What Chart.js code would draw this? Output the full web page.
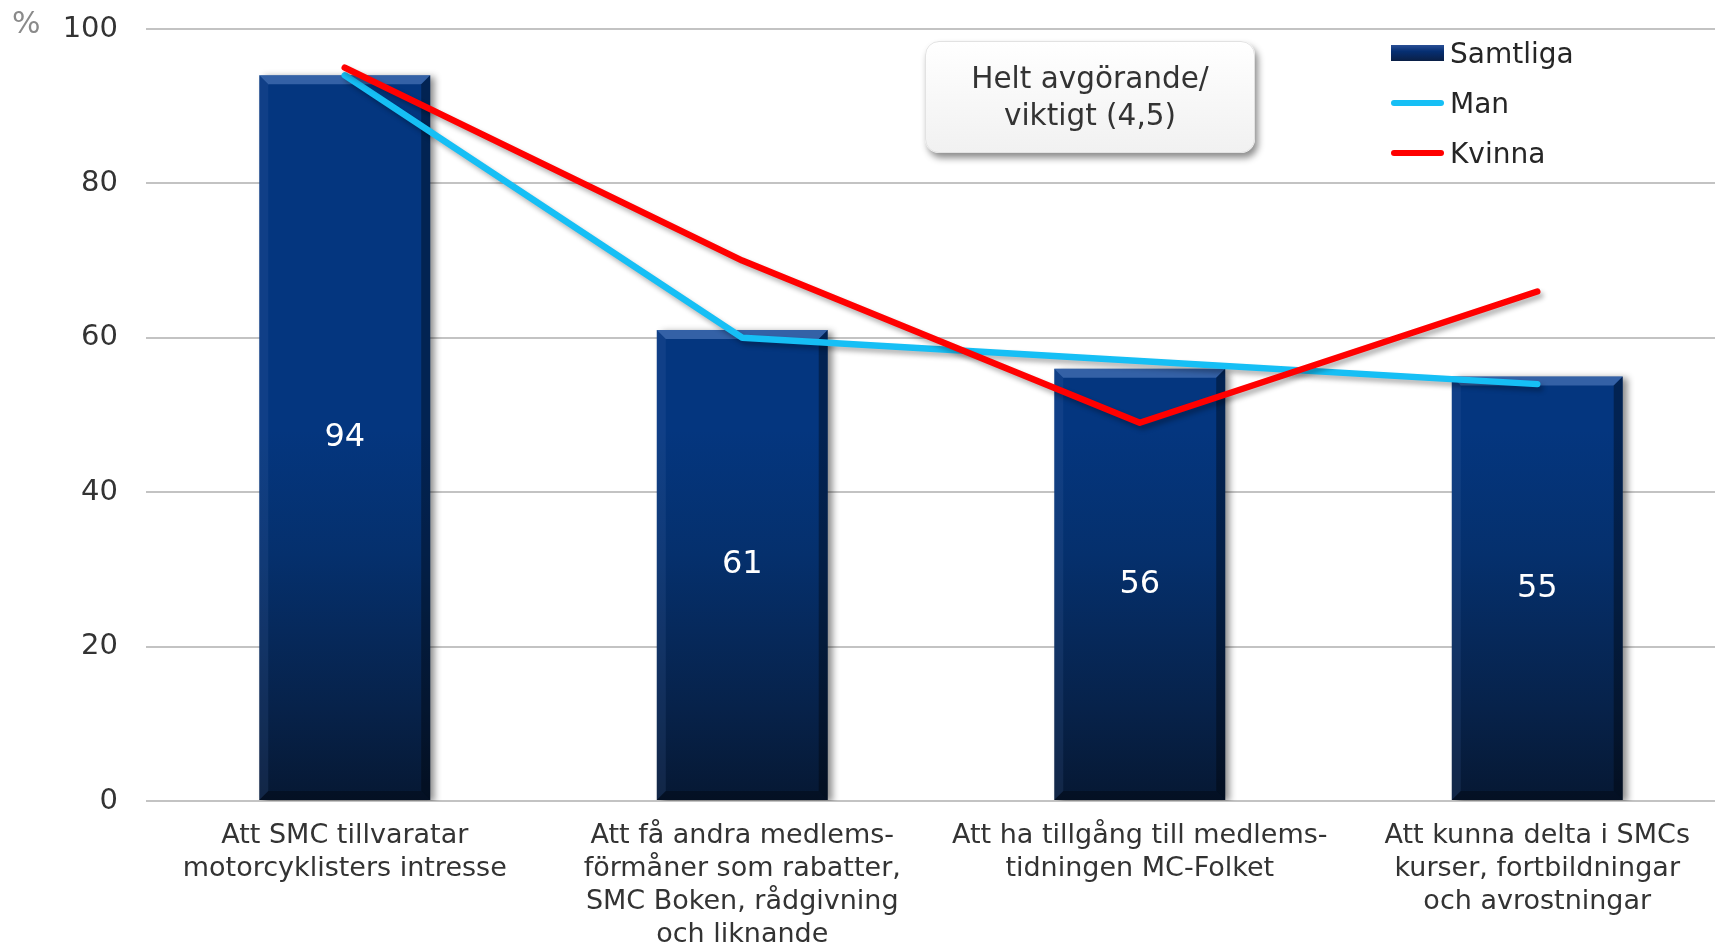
<!DOCTYPE html>
<html>
<head>
<meta charset="utf-8">
<script src="https://cdn.jsdelivr.net/npm/chart.js@4.4.1/dist/chart.umd.min.js"></script>
<style>
  html, body { margin: 0; padding: 0; background: #fff; overflow: hidden; }
  #wrap { position: relative; width: 1715px; height: 943px; overflow: hidden; font-family: "DejaVu Sans", Verdana, sans-serif; }
  #chart { position: absolute; left: 0; top: 0; }
  .pct { position: absolute; left: 12px; top: 5px; font-size: 30px; color: #8a8a8a; }
  .note {
    position: absolute; left: 925px; top: 41px; width: 330px; height: 112px;
    border-radius: 14px; background: linear-gradient(#ffffff, #f1f1f1);
    box-shadow: 3px 5px 7px rgba(0,0,0,0.45); border: 1px solid #e2e2e2; box-sizing: border-box;
    display: flex; align-items: center; justify-content: center; text-align: center;
    font-size: 29.5px; line-height: 37px; color: #333;
  }
  .leg { position: absolute; left: 1391px; font-size: 28px; color: #262626; display: flex; align-items: center; height: 34px; }
  .leg .sw { width: 53px; margin-right: 6px; }
  .leg .box { height: 16px; background: linear-gradient(#2a4f96, #062f72 40%, #0a1f45); }
  .leg .ln { height: 6px; border-radius: 3px; }
</style>
</head>
<body>
<div id="wrap">
  <canvas id="chart" width="1736" height="943"></canvas>
  <div class="pct">%</div>
  <div class="note">Helt avgörande/<br>viktigt (4,5)</div>
  <div id="legend"></div>
</div>
<script>
// --- data ---
const categories = [
    ['Att SMC tillvaratar', 'motorcyklisters intresse'],
    ['Att få andra medlems-', 'förmåner som rabatter,', 'SMC Boken, rådgivning', 'och liknande'],
    ['Att ha tillgång till medlems-', 'tidningen MC-Folket'],
    ['Att kunna delta i SMCs', 'kurser, fortbildningar', 'och avrostningar']
];
const samtliga = [94, 61, 56, 55];
const man = [94, 60, 57, 54];
const kvinna = [95, 70, 49, 66];
const yTicks = [0, 20, 40, 60, 80, 100];

const seriesNames = ['Samtliga', 'Man', 'Kvinna'];
const manColor = '#16bff5';
const kvinnaColor = '#ff0000';

// legend (html)
const legendRows = [
    { name: seriesNames[0], cls: 'box', color: null, top: 36 },
    { name: seriesNames[1], cls: 'ln', color: manColor, top: 86 },
    { name: seriesNames[2], cls: 'ln', color: kvinnaColor, top: 136 }
];
document.getElementById('legend').innerHTML = legendRows.map(r => `
    <div class="leg" style="top:${r.top}px">
        <div class="sw ${r.cls}" ${r.color ? `style="background:${r.color}"` : ''}></div>${r.name}
    </div>`).join('');

// bar gradient along the value axis
function barFill(c) {
    const area = c.chart.chartArea;
    if (!area) return '#06357f';
    const g = c.chart.ctx.createLinearGradient(0, area.bottom, 0, area.top);
    g.addColorStop(0, '#061833');
    g.addColorStop(0.12, '#07224a');
    g.addColorStop(0.32, '#05306d');
    g.addColorStop(0.48, '#04367f');
    g.addColorStop(1, '#04367f');
    return g;
}

// shadow + bevel + labels for the bars
const barDecor = {
    id: 'barDecor',
    beforeDatasetDraw(chart, args) {
        const ctx = chart.ctx;
        ctx.save();
        if (args.index === 0) {
            ctx.shadowColor = 'rgba(0,0,0,0.45)';
            ctx.shadowOffsetX = 5;
            ctx.shadowOffsetY = 2;
            ctx.shadowBlur = 7;
        } else {
            ctx.shadowColor = 'rgba(0,0,0,0.3)';
            ctx.shadowOffsetX = 3;
            ctx.shadowOffsetY = 4;
            ctx.shadowBlur = 5;
        }
    },
    afterDatasetDraw(chart, args) {
        const ctx = chart.ctx;
        ctx.restore();
        if (args.index !== 0) return;
        const meta = chart.getDatasetMeta(0);
        meta.data.forEach((bar, i) => {
            const l = bar.x - bar.width / 2, r = bar.x + bar.width / 2;
            const t = bar.y, b = bar.base, e = 9;
            ctx.save();
            // top bevel
            ctx.fillStyle = 'rgba(110,150,215,0.45)';
            ctx.beginPath();
            ctx.moveTo(l, t); ctx.lineTo(r, t); ctx.lineTo(r - e, t + e); ctx.lineTo(l + e, t + e); ctx.closePath();
            ctx.fill();
            // right edge dark
            ctx.fillStyle = 'rgba(0,0,0,0.35)';
            ctx.beginPath();
            ctx.moveTo(r, t); ctx.lineTo(r, b); ctx.lineTo(r - e, b - e); ctx.lineTo(r - e, t + e); ctx.closePath();
            ctx.fill();
            // left edge light
            ctx.fillStyle = 'rgba(90,120,180,0.15)';
            ctx.beginPath();
            ctx.moveTo(l, t); ctx.lineTo(l, b); ctx.lineTo(l + e, b - e); ctx.lineTo(l + e, t + e); ctx.closePath();
            ctx.fill();
            // bottom edge
            ctx.fillStyle = 'rgba(0,0,0,0.3)';
            ctx.beginPath();
            ctx.moveTo(l, b); ctx.lineTo(r, b); ctx.lineTo(r - e, b - e); ctx.lineTo(l + e, b - e); ctx.closePath();
            ctx.fill();
            // value label
            ctx.fillStyle = '#ffffff';
            ctx.font = '32px "DejaVu Sans"';
            ctx.textAlign = 'center';
            ctx.textBaseline = 'middle';
            ctx.fillText(String(samtliga[i]), bar.x, (bar.y + bar.base) / 2);
            ctx.restore();
        });
    }
};

new Chart(document.getElementById('chart'), {
    type: 'bar',
    data: {
        labels: categories,
        datasets: [
            {
                label: seriesNames[0],
                data: samtliga,
                backgroundColor: barFill,
                barPercentage: 0.43,
                categoryPercentage: 1,
                order: 3
            },
            {
                type: 'line',
                label: seriesNames[1],
                data: man,
                borderColor: manColor,
                borderWidth: 6.5,
                pointRadius: 0,
                tension: 0,
                borderCapStyle: 'round',
                borderJoinStyle: 'round',
                order: 2
            },
            {
                type: 'line',
                label: seriesNames[2],
                data: kvinna,
                borderColor: kvinnaColor,
                borderWidth: 6.5,
                pointRadius: 0,
                tension: 0,
                borderCapStyle: 'round',
                borderJoinStyle: 'round',
                order: 1
            }
        ]
    },
    options: {
        responsive: false,
        animation: false,
        layout: { padding: { top: 29, left: 0, right: 0, bottom: 0 } },
        scales: {
            x: {
                grid: { display: false },
                border: { display: false },
                ticks: {
                    color: '#333',
                    font: { family: 'DejaVu Sans', size: 27, lineHeight: 1.215 },
                    padding: 11,
                    maxRotation: 0,
                    autoSkip: false
                },
                afterFit(scale) {
                    scale.height = 142;
                    scale.paddingLeft = 0;
                    scale.paddingRight = 0;
                }
            },
            y: {
                min: 0,
                max: 100,
                afterBuildTicks(scale) { scale.ticks = yTicks.map(v => ({ value: v })); },
                grid: { color: '#c3c3c3', lineWidth: 2, drawTicks: false },
                border: { display: false },
                ticks: {
                    color: '#333',
                    font: { family: 'DejaVu Sans', size: 29 },
                    padding: 28
                },
                afterFit(scale) {
                    scale.width = 146;
                    scale.paddingTop = 0;
                    scale.paddingBottom = 0;
                }
            }
        },
        plugins: {
            legend: { display: false },
            tooltip: { enabled: false }
        }
    },
    plugins: [barDecor]
});
</script>
</body>
</html>
